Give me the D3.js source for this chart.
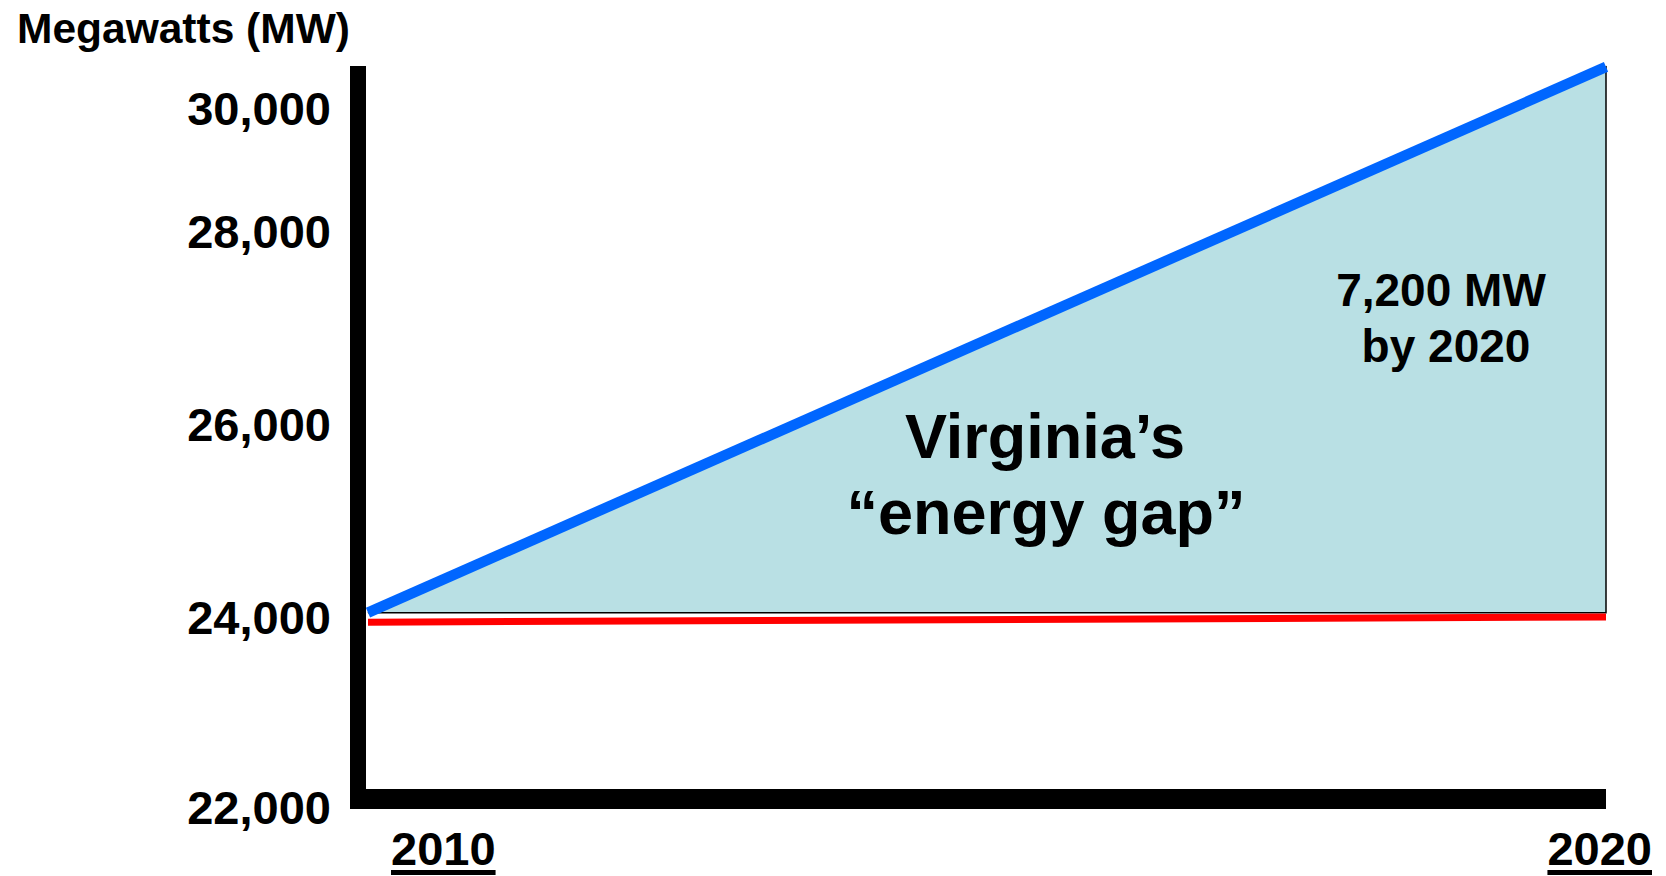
<!DOCTYPE html>
<html>
<head>
<meta charset="utf-8">
<script src="https://cdn.jsdelivr.net/npm/d3@7/dist/d3.min.js"></script>
<style>
  html, body { margin: 0; padding: 0; background: #fff; }
  svg { display: block; }
  text { font-family: "Liberation Sans", Arial, Helvetica, sans-serif; font-weight: bold; fill: #000; }
</style>
</head>
<body>
<svg id="chart" width="1666" height="876"></svg>
<script>
// ---- data ----
const years = [2010, 2020];
const demand = [24040, 30660];      // blue line (MW)
const supply = [23940, 23995];      // red line (MW)
const gapBase = [24040, 24040];     // lower edge of the shaded gap
const yTicks = [22000, 24000, 26000, 28000, 30000];
const yTitle = "Megawatts (MW)";
const gapLabel = ["Virginia\u2019s", "\u201Cenergy gap\u201D"];
const gapAmount = ["7,200 MW", "by 2020"];

// ---- layout ----
const svg = d3.select("#chart");
const x = d3.scaleLinear().domain(d3.extent(years)).range([368, 1606]);
// The original axis is drawn with uneven spacing between tick labels
const y = d3.scaleLinear().domain(yTicks).range([806.5, 616.5, 423.5, 230.5, 107.5]);

const pts = years.map((yr, i) => ({ yr, d: demand[i], s: supply[i], b: gapBase[i] }));

// shaded gap
svg.append("path")
  .datum(pts)
  .attr("d", d3.area().x(p => x(p.yr)).y0(p => y(p.b)).y1(p => y(p.d)))
  .attr("fill", "#B9E0E4")
  .attr("stroke", "#000")
  .attr("stroke-width", 1.5);

// supply line (red)
svg.append("path")
  .datum(pts)
  .attr("d", d3.line().x(p => x(p.yr)).y(p => y(p.s)))
  .attr("fill", "none")
  .attr("stroke", "#FF0000")
  .attr("stroke-width", 7);

// demand line (blue)
svg.append("path")
  .datum(pts)
  .attr("d", d3.line().x(p => x(p.yr)).y(p => y(p.d)))
  .attr("fill", "none")
  .attr("stroke", "#0066FF")
  .attr("stroke-width", 10.5);

// axis bars
const axisX0 = 350, axisX1 = 366;
svg.append("rect").attr("x", axisX0).attr("y", 66).attr("width", axisX1 - axisX0).attr("height", 809 - 66).attr("fill", "#000");
svg.append("rect").attr("x", axisX0).attr("y", 789).attr("width", x(2020) - axisX0).attr("height", 20).attr("fill", "#000");

// y tick labels
const yAxis = svg.append("g")
  .attr("transform", "translate(358,0)")
  .call(d3.axisLeft(y).tickValues(yTicks).tickSize(0).tickPadding(27).tickFormat(d3.format(",")));
yAxis.select(".domain").remove();
yAxis.selectAll("text")
  .attr("dy", "0.36em")
  .style("font-family", "'Liberation Sans', Arial, sans-serif")
  .style("font-weight", "bold")
  .style("font-size", "47px")
  .attr("fill", "#000");

// y title
svg.append("text").attr("x", 17).attr("y", 43)
  .style("font-size", "42.5px").text(yTitle);

// x labels (underlined)
const xLab = [
  { yr: years[0], anchor: "start", dx: 23 },
  { yr: years[1], anchor: "end", dx: 46 }
];
xLab.forEach(l => {
  const t = svg.append("text")
    .attr("x", x(l.yr) + l.dx).attr("y", 865)
    .attr("text-anchor", l.anchor)
    .style("font-size", "47px")
    .text(l.yr);
  const w = t.node().getComputedTextLength();
  const x0 = l.anchor === "start" ? x(l.yr) + l.dx : x(l.yr) + l.dx - w;
  svg.append("rect").attr("x", x0).attr("y", 870).attr("width", w).attr("height", 5).attr("fill", "#000");
});

// gap label
svg.append("text").attr("x", 1045).attr("y", 458).attr("text-anchor", "middle")
  .style("font-size", "63px").text(gapLabel[0]);
svg.append("text").attr("x", 1046).attr("y", 534).attr("text-anchor", "middle")
  .style("font-size", "63px").text(gapLabel[1]);

// gap amount
svg.append("text").attr("x", 1441).attr("y", 306).attr("text-anchor", "middle")
  .style("font-size", "46px").text(gapAmount[0]);
svg.append("text").attr("x", 1446).attr("y", 362).attr("text-anchor", "middle")
  .style("font-size", "46px").text(gapAmount[1]);
</script>
</body>
</html>
